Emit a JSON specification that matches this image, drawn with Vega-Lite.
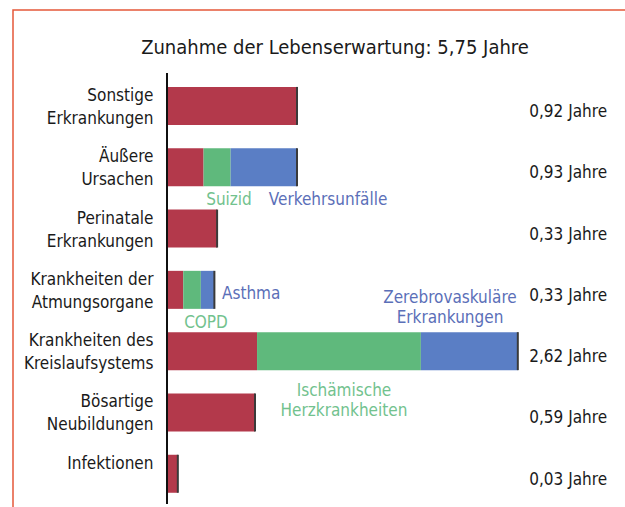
{
  "$schema": "https://vega.github.io/schema/vega-lite/v6.json",
  "autosize": "none",
  "width": 620,
  "height": 500,
  "padding": {"left": 13, "top": 10, "right": 0, "bottom": 0},
  "background": "white",
  "config": {
    "view": {"stroke": "#E5583A", "strokeWidth": 1.5},
    "text": {"font": "DejaVu Sans Condensed, sans-serif", "fontSize": 17}
  },
  "title": {
    "text": "Zunahme der Lebenserwartung: 5,75 Jahre",
    "font": "DejaVu Sans Condensed, sans-serif",
    "fontSize": 20,
    "fontWeight": "normal",
    "color": "#1a1a1a",
    "anchor": "middle",
    "baseline": "alphabetic",
    "offset": -64,
    "dx": 12
  },
  "datasets": {
    "segments": [
      {"cat": "Sonstige", "part": "1", "value": 0.96},
      {"cat": "Äußere", "part": "1", "value": 0.27},
      {"cat": "Äußere", "part": "2", "value": 0.20},
      {"cat": "Äußere", "part": "3", "value": 0.49},
      {"cat": "Perinatale", "part": "1", "value": 0.37},
      {"cat": "Atmung", "part": "1", "value": 0.12},
      {"cat": "Atmung", "part": "2", "value": 0.13},
      {"cat": "Atmung", "part": "3", "value": 0.10},
      {"cat": "Kreislauf", "part": "1", "value": 0.665},
      {"cat": "Kreislauf", "part": "2", "value": 1.21},
      {"cat": "Kreislauf", "part": "3", "value": 0.716},
      {"cat": "Bösartige", "part": "1", "value": 0.65},
      {"cat": "Infektionen", "part": "1", "value": 0.08}
    ],
    "categories": [
      {"cat": "Sonstige", "label": "Sonstige\nErkrankungen", "total": "0,92 Jahre"},
      {"cat": "Äußere", "label": "Äußere\nUrsachen", "total": "0,93 Jahre"},
      {"cat": "Perinatale", "label": "Perinatale\nErkrankungen", "total": "0,33 Jahre"},
      {"cat": "Atmung", "label": "Krankheiten der\nAtmungsorgane", "total": "0,33 Jahre"},
      {"cat": "Kreislauf", "label": "Krankheiten des\nKreislaufsystems", "total": "2,62 Jahre"},
      {"cat": "Bösartige", "label": "Bösartige\nNeubildungen", "total": "0,59 Jahre"},
      {"cat": "Infektionen", "label": "Infektionen", "total": "0,03 Jahre"}
    ],
    "notes": [
      {"cat": "Äußere", "x": 0.458, "text": "Suizid", "part": "2", "pos": "below"},
      {"cat": "Äußere", "x": 1.19, "text": "Verkehrsunfälle", "part": "3", "pos": "below"},
      {"cat": "Atmung", "x": 0.406, "text": "Asthma", "part": "3", "pos": "right"},
      {"cat": "Atmung", "x": 0.288, "text": "COPD", "part": "2", "pos": "below"},
      {"cat": "Kreislauf", "x": 2.09, "text": "Zerebrovaskuläre\nErkrankungen", "part": "3", "pos": "above"},
      {"cat": "Kreislauf", "x": 1.307, "text": "Ischämische\nHerzkrankheiten", "part": "2", "pos": "under"}
    ]
  },
  "encoding": {
    "y": {
      "field": "cat",
      "type": "nominal",
      "axis": null,
      "scale": {
        "domain": ["Sonstige", "Äußere", "Perinatale", "Atmung", "Kreislauf", "Bösartige", "Infektionen"],
        "paddingInner": 0.38,
        "paddingOuter": 0.768,
        "align": 0.817
      }
    }
  },
  "layer": [
    {
      "data": {"name": "segments"},
      "mark": {"type": "bar"},
      "encoding": {
        "x": {"field": "value", "type": "quantitative", "stack": "zero", "axis": null,
              "scale": {"domain": [-1.1374, 3.4417], "nice": false, "zero": false}},
        "color": {"field": "part", "type": "nominal", "legend": null,
                  "scale": {"domain": ["1", "2", "3"], "range": ["#B3394B", "#5FB97C", "#5A7EC5"]}},
        "order": {"field": "part"}
      }
    },
    {
      "data": {"name": "segments"},
      "mark": {"type": "tick", "thickness": 2, "size": 38, "color": "#3a3a3a", "opacity": 1},
      "encoding": {
        "x": {"aggregate": "sum", "field": "value", "type": "quantitative"}
      }
    },
    {
      "data": {"name": "categories"},
      "mark": {"type": "rule", "color": "#111", "strokeWidth": 1.5, "yOffset": -14, "y2Offset": 11},
      "encoding": {
        "x": {"datum": 0},
        "y": {"datum": "Sonstige", "bandPosition": 0},
        "y2": {"datum": "Infektionen", "bandPosition": 1}
      }
    },
    {
      "data": {"name": "categories"},
      "mark": {"type": "text", "align": "right", "baseline": "middle", "dy": -10, "lineBreak": "\n", "lineHeight": 23, "color": "#1a1a1a"},
      "encoding": {
        "x": {"datum": -0.1},
        "text": {"field": "label"}
      }
    },
    {
      "data": {"name": "categories"},
      "mark": {"type": "text", "align": "right", "baseline": "middle", "dy": 6, "color": "#1a1a1a"},
      "encoding": {
        "x": {"datum": 3.25},
        "text": {"field": "total"}
      }
    },
    {
      "data": {"name": "notes"},
      "transform": [{"filter": "datum.pos === 'below'"}],
      "mark": {"type": "text", "align": "center", "baseline": "top", "dy": 25},
      "encoding": {
        "x": {"field": "x", "type": "quantitative"},
        "text": {"field": "text"},
        "color": {"field": "part", "type": "nominal", "legend": null,
                  "scale": {"domain": ["1", "2", "3"], "range": ["#B3394B", "#72C28E", "#5B6FB8"]}}
      }
    },
    {
      "data": {"name": "notes"},
      "transform": [{"filter": "datum.pos === 'under'"}],
      "mark": {"type": "text", "align": "center", "baseline": "top", "dy": 32, "lineBreak": "\n", "lineHeight": 20},
      "encoding": {
        "x": {"field": "x", "type": "quantitative"},
        "text": {"field": "text"},
        "color": {"field": "part", "type": "nominal", "legend": null,
                  "scale": {"domain": ["1", "2", "3"], "range": ["#B3394B", "#72C28E", "#5B6FB8"]}}
      }
    },
    {
      "data": {"name": "notes"},
      "transform": [{"filter": "datum.pos === 'above'"}],
      "mark": {"type": "text", "align": "center", "baseline": "bottom", "dy": -44, "lineBreak": "\n", "lineHeight": 20},
      "encoding": {
        "x": {"field": "x", "type": "quantitative"},
        "text": {"field": "text"},
        "color": {"field": "part", "type": "nominal", "legend": null,
                  "scale": {"domain": ["1", "2", "3"], "range": ["#B3394B", "#72C28E", "#5B6FB8"]}}
      }
    },
    {
      "data": {"name": "notes"},
      "transform": [{"filter": "datum.pos === 'right'"}],
      "mark": {"type": "text", "align": "left", "baseline": "middle", "dy": 4},
      "encoding": {
        "x": {"field": "x", "type": "quantitative"},
        "text": {"field": "text"},
        "color": {"field": "part", "type": "nominal", "legend": null,
                  "scale": {"domain": ["1", "2", "3"], "range": ["#B3394B", "#72C28E", "#5B6FB8"]}}
      }
    }
  ],
  "resolve": {"scale": {"color": "independent"}}
}
